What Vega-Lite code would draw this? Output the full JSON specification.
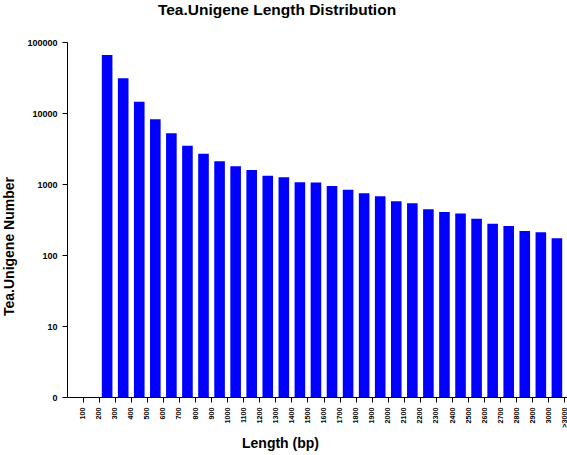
{
  "$schema": "https://vega.github.io/schema/vega-lite/v6.json",
  "autosize": "none",
  "padding": {"left": 67, "top": 42, "right": 0, "bottom": 58},
  "width": 500,
  "height": 355,
  "title": {
    "text": "Tea.Unigene Length Distribution",
    "font": "Liberation Sans, Arial, sans-serif",
    "fontSize": 15.5,
    "fontWeight": "bold",
    "color": "#000000",
    "anchor": "middle",
    "frame": "group",
    "dx": -40,
    "offset": 20
  },
  "data": {
    "values": [
      {"length": "200", "count": 65600},
      {"length": "300", "count": 30800},
      {"length": "400", "count": 14400},
      {"length": "500", "count": 8150},
      {"length": "600", "count": 5170},
      {"length": "700", "count": 3470},
      {"length": "800", "count": 2670},
      {"length": "900", "count": 2090},
      {"length": "1000", "count": 1775},
      {"length": "1100", "count": 1574},
      {"length": "1200", "count": 1308},
      {"length": "1300", "count": 1242},
      {"length": "1400", "count": 1060},
      {"length": "1500", "count": 1050},
      {"length": "1600", "count": 937},
      {"length": "1700", "count": 831},
      {"length": "1800", "count": 739},
      {"length": "1900", "count": 671},
      {"length": "2000", "count": 571},
      {"length": "2100", "count": 535},
      {"length": "2200", "count": 440},
      {"length": "2300", "count": 403},
      {"length": "2400", "count": 385},
      {"length": "2500", "count": 325},
      {"length": "2600", "count": 276},
      {"length": "2700", "count": 256},
      {"length": "2800", "count": 218},
      {"length": "2900", "count": 209},
      {"length": "3000", "count": 172}
    ]
  },
  "mark": {"type": "bar", "color": "#0000FF", "width": {"band": 0.66}, "xOffset": 8},
  "encoding": {
    "x": {
      "field": "length",
      "type": "ordinal",
      "scale": {
        "domain": ["100", "200", "300", "400", "500", "600", "700", "800", "900", "1000",
                   "1100", "1200", "1300", "1400", "1500", "1600", "1700", "1800", "1900", "2000",
                   "2100", "2200", "2300", "2400", "2500", "2600", "2700", "2800", "2900", "3000", ">3000"],
        "type": "band",
        "paddingInner": 0,
        "paddingOuter": 0.25,
        "align": 1,
        "range": [0, 506]
      },
      "axis": {
        "title": "Length (bp)",
        "titleFont": "Liberation Sans, Arial, sans-serif",
        "titleFontSize": 14,
        "titleFontWeight": "bold",
        "titleColor": "#000000",
        "titleX": 213,
        "titleY": 50,
        "titleAlign": "center",
        "titleBaseline": "alphabetic",
        "labelAngle": -90,
        "labelAlign": "right",
        "labelBaseline": "middle",
        "labelFont": "Liberation Sans, Arial, sans-serif",
        "labelFontSize": 7.2,
        "labelFontWeight": "bold",
        "labelColor": "#000000",
        "labelPadding": 5,
        "labelOverlap": false,
        "tickSize": 5,
        "tickColor": "#000000",
        "domainColor": "#000000",
        "grid": false
      }
    },
    "y": {
      "field": "count",
      "type": "quantitative",
      "scale": {"type": "log", "domain": [1, 100000], "nice": false},
      "axis": {
        "title": "Tea.Unigene Number",
        "titleFont": "Liberation Sans, Arial, sans-serif",
        "titleFontSize": 14,
        "titleFontWeight": "bold",
        "titleColor": "#000000",
        "titleAngle": -90,
        "titleX": -54,
        "titleY": 204,
        "titleAlign": "center",
        "titleBaseline": "alphabetic",
        "values": [1, 10, 100, 1000, 10000, 100000],
        "labelExpr": "datum.value == 1 ? '0' : format(datum.value, 'd')",
        "labelFont": "Liberation Sans, Arial, sans-serif",
        "labelFontSize": 9,
        "labelFontWeight": "bold",
        "labelColor": "#000000",
        "labelPadding": 5,
        "tickSize": 5,
        "tickColor": "#000000",
        "domainColor": "#000000",
        "grid": false
      }
    },
    "y2": {"datum": 1}
  },
  "config": {
    "view": {"stroke": null},
    "background": "#ffffff"
  }
}
